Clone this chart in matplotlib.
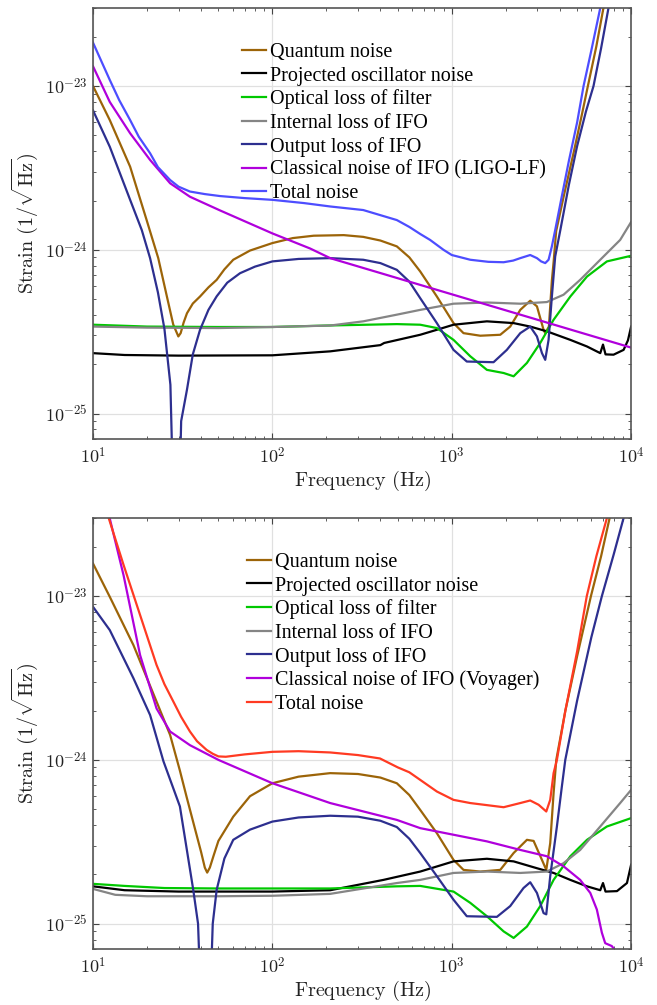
import numpy as np
import matplotlib
matplotlib.use("Agg")
from matplotlib import pyplot as plt
from matplotlib.ticker import LogLocator, FixedLocator, FuncFormatter, NullFormatter

plt.rcParams['mathtext.fontset'] = 'cm'
plt.rcParams['font.family'] = ['Liberation Serif', 'DejaVu Serif']

# ==================================================
#   DATA, frequency in Hz, strain in 1/sqrt(Hz)

labels_lf = ["Quantum noise", "Projected oscillator noise", "Optical loss of filter",
             "Internal loss of IFO", "Output loss of IFO",
             "Classical noise of IFO (LIGO-LF)", "Total noise"]
labels_voy = ["Quantum noise", "Projected oscillator noise", "Optical loss of filter",
              "Internal loss of IFO", "Output loss of IFO",
              "Classical noise of IFO (Voyager)", "Total noise"]

# ---- top panel: LIGO-LF
f_quant_lf = [10, 12.4, 16.1, 19.9, 23.1, 25.8, 28, 29.9, 30.8, 32, 33.4, 36, 39.5, 44, 48.9, 54, 60.5,
              75, 100, 130, 170, 250, 321, 400, 494, 580, 667, 826, 1023, 1163, 1442, 1864, 2118,
              2410, 2738, 2985, 3250, 3320, 3480, 3616, 3700, 3820, 4200, 4800, 5300, 5740, 6400, 7010]
h_quant_lf = [1.0e-23, 6.2e-24, 3.22e-24, 1.52e-24, 8.9e-25, 5.2e-25, 3.5e-25, 2.96e-25, 3.1e-25,
              3.6e-25, 4.1e-25, 4.7e-25, 5.19e-25, 5.9e-25, 6.56e-25, 7.6e-25, 8.7e-25,
              9.9e-25, 1.1e-24, 1.18e-24, 1.22e-24, 1.23e-24, 1.2e-24, 1.14e-24, 1.05e-24, 9.0e-25,
              7.38e-25, 5.19e-25, 3.57e-25, 3.1e-25, 2.99e-25, 3.03e-25, 3.4e-25,
              4.3e-25, 4.89e-25, 4.52e-25, 3.25e-25, 3.1e-25, 3.4e-25, 6.5e-25, 8.5e-25, 1.3e-24,
              2.1e-24, 4.0e-24, 6.6e-24, 1.0e-23, 1.75e-23, 3.0e-23]

f_osc_lf = [10, 15, 30, 100, 210, 400, 420, 667, 826, 1023, 1570, 2213, 2738, 3390, 4583, 5675, 6730,
            6970, 7200, 7980, 9080, 9600, 10000]
h_osc_lf = [2.34e-25, 2.28e-25, 2.26e-25, 2.27e-25, 2.4e-25, 2.62e-25, 2.7e-25, 3.03e-25, 3.25e-25,
            3.49e-25, 3.66e-25, 3.57e-25, 3.4e-25, 3.18e-25, 2.82e-25, 2.57e-25, 2.34e-25,
            2.64e-25, 2.3e-25, 2.29e-25, 2.45e-25, 2.8e-25, 3.4e-25]

f_filt_lf = [10, 20, 50, 100, 200, 494, 667, 826, 1023, 1268, 1570, 1946, 2213, 2625, 3114, 3696,
             4583, 5675, 7330, 10000]
h_filt_lf = [3.49e-25, 3.4e-25, 3.38e-25, 3.38e-25, 3.45e-25, 3.52e-25, 3.49e-25, 3.33e-25, 2.82e-25,
             2.24e-25, 1.85e-25, 1.77e-25, 1.69e-25, 2.04e-25, 2.7e-25, 3.74e-25,
             5.19e-25, 6.87e-25, 8.5e-25, 9.2e-25]

f_int_lf = [10, 20, 50, 100, 210, 321, 494, 667, 1023, 1570, 2410, 3390, 4200, 5200, 6730, 8690, 10000]
h_int_lf = [3.4e-25, 3.35e-25, 3.33e-25, 3.38e-25, 3.45e-25, 3.66e-25, 4.02e-25, 4.3e-25, 4.69e-25,
            4.77e-25, 4.69e-25, 4.8e-25, 5.32e-25, 6.56e-25, 8.7e-25, 1.15e-24, 1.48e-24]

f_out_lf = [10, 12.4, 16.1, 18.7, 20.8, 23, 25, 27, 29.2, 31, 33.4, 36, 39.5, 44, 48.9, 56, 66, 80, 100,
            140, 210, 321, 400, 494, 580, 667, 826, 1023, 1213, 1710, 2028, 2410, 2738, 2985, 3184,
            3320, 3466, 3616, 3773, 4030, 4500, 5000, 5600, 6170, 6800, 7480]
h_out_lf = [7.1e-24, 4.26e-24, 2.02e-24, 1.32e-24, 8.9e-25, 5.5e-25, 3.3e-25, 1.5e-25, 5e-27, 9e-26,
            1.4e-25, 2.3e-25, 3.25e-25, 4.3e-25, 5.2e-25, 6.3e-25, 7.2e-25, 7.9e-25, 8.5e-25,
            8.8e-25, 8.9e-25, 8.7e-25, 8.3e-25, 7.55e-25, 6.4e-25, 5.07e-25, 3.57e-25, 2.45e-25,
            2.08e-25, 2.06e-25, 2.45e-25, 3.1e-25, 3.4e-25, 2.96e-25, 2.34e-25,
            2.13e-25, 2.82e-25, 5.19e-25, 9.1e-25, 1.32e-24, 2.5e-24, 4.3e-24, 7.0e-24, 1.0e-23,
            1.7e-23, 3.0e-23]

f_class_lf = [10, 12.4, 16.1, 20.8, 26.9, 34.7, 51.1, 100, 162, 210, 10000]
h_class_lf = [1.32e-23, 8.0e-24, 5.15e-24, 3.54e-24, 2.55e-24, 2.11e-24, 1.74e-24, 1.26e-24, 1.02e-24,
              8.9e-25, 2.53e-25]

f_tot_lf = [10, 12.4, 14, 16.1, 18, 20.8, 23, 26.9, 30, 34.7, 42, 51.1, 70, 100, 150, 210, 321, 494,
            580, 667, 757, 900, 1000, 1268, 1600, 1946, 2200, 2410, 2738, 2985, 3150, 3320, 3466,
            3616, 3773, 4100, 4500, 5000, 5430, 6000, 6730]
h_tot_lf = [1.84e-23, 1.09e-23, 8.2e-24, 6.2e-24, 4.9e-24, 3.89e-24, 3.2e-24, 2.67e-24, 2.43e-24,
            2.27e-24, 2.19e-24, 2.13e-24, 2.07e-24, 2.02e-24, 1.93e-24, 1.84e-24, 1.75e-24, 1.52e-24,
            1.38e-24, 1.25e-24, 1.15e-24, 1.0e-24, 9.3e-25, 8.7e-25, 8.45e-25, 8.4e-25, 8.6e-25,
            8.9e-25, 9.3e-25, 8.9e-25, 8.5e-25, 8.3e-25, 8.7e-25,
            1.05e-24, 1.32e-24, 2.1e-24, 3.5e-24, 6.0e-24, 1.0e-23, 1.65e-23, 3.0e-23]

# ---- bottom panel: Voyager
f_quant_voy = [10, 12.4, 16.8, 22.6, 26.9, 30.5, 33.3, 37, 40, 42, 43.3, 44.8, 47, 50, 60.5, 75, 100, 140,
               210, 300, 400, 494, 580, 667, 826, 1023, 1163, 1442, 1864, 2213, 2625, 2860, 3184, 3365,
               3540, 3696, 3826, 4300, 5000, 5970, 6800, 7590]
h_quant_voy = [1.58e-23, 9.9e-24, 5.02e-24, 2.27e-24, 1.42e-24, 8.6e-25, 5.9e-25, 3.8e-25, 2.75e-25,
               2.2e-25, 2.05e-25, 2.2e-25, 2.6e-25, 3.2e-25, 4.5e-25, 6.0e-25, 7.2e-25, 7.9e-25,
               8.3e-25, 8.2e-25, 7.8e-25, 7.2e-25, 6.1e-25, 4.95e-25, 3.57e-25, 2.45e-25, 2.13e-25,
               2.08e-25, 2.13e-25, 2.7e-25, 3.25e-25, 3.2e-25, 2.45e-25, 2.13e-25,
               3.1e-25, 6.26e-25, 1.0e-24, 2.0e-24, 4.3e-24, 1.0e-23, 1.75e-23, 3.0e-23]

f_osc_voy = [10, 15, 30, 100, 210, 416, 667, 1023, 1570, 2213, 2985, 3696, 4583, 5675, 6730, 6970, 7200,
             8340, 9480, 10000]
h_osc_voy = [1.69e-25, 1.6e-25, 1.57e-25, 1.57e-25, 1.6e-25, 1.85e-25, 2.08e-25, 2.4e-25, 2.49e-25,
             2.4e-25, 2.18e-25, 2.04e-25, 1.85e-25, 1.69e-25, 1.6e-25, 1.77e-25, 1.57e-25,
             1.58e-25, 1.77e-25, 2.29e-25]

f_filt_voy = [10, 15, 25, 50, 100, 210, 494, 667, 1023, 1268, 1570, 1946, 2213, 2625, 3114, 3696, 4583,
              5675, 7330, 10000]
h_filt_voy = [1.75e-25, 1.7e-25, 1.65e-25, 1.64e-25, 1.64e-25, 1.64e-25, 1.69e-25, 1.7e-25, 1.57e-25,
              1.34e-25, 1.11e-25, 8.97e-26, 8.18e-26, 9.6e-26, 1.28e-25, 1.85e-25, 2.58e-25,
              3.25e-25, 3.92e-25, 4.41e-25]

f_int_voy = [10, 13.3, 20, 50, 100, 210, 494, 667, 1023, 1570, 2410, 3390, 4200, 5200, 6730, 8690, 10000]
h_int_voy = [1.63e-25, 1.5e-25, 1.47e-25, 1.47e-25, 1.48e-25, 1.52e-25, 1.77e-25, 1.85e-25, 2.04e-25,
             2.08e-25, 2.04e-25, 2.08e-25, 2.34e-25, 2.82e-25, 3.92e-25, 5.45e-25, 6.56e-25]

f_out_voy = [10, 12.4, 16.8, 20.8, 24.7, 30.5, 36.2, 38.5, 42.5, 46.5, 48.9, 54, 60.5, 75, 100, 140, 210,
             300, 400, 494, 580, 667, 826, 1023, 1213, 1785, 2118, 2512, 2738, 2985, 3250, 3365, 3540,
             3857, 4110, 4295, 5000, 6000, 6870, 8000, 9080]
h_out_voy = [8.6e-24, 6.2e-24, 3.15e-24, 1.88e-24, 9.8e-25, 5.2e-25, 1.61e-25, 1.0e-25, 5e-27, 1.0e-25,
             1.61e-25, 2.5e-25, 3.25e-25, 3.75e-25, 4.2e-25, 4.45e-25, 4.56e-25, 4.5e-25, 4.25e-25,
             3.89e-25, 3.3e-25, 2.7e-25, 1.95e-25, 1.4e-25, 1.11e-25, 1.1e-25, 1.28e-25, 1.65e-25,
             1.79e-25, 1.54e-25, 1.16e-25, 1.14e-25, 1.95e-25, 3.92e-25, 6.87e-25, 1.0e-24,
             2.3e-24, 5.6e-24, 1.0e-23, 1.8e-23, 3.0e-23]

f_class_voy = [12.2, 14.8, 18.3, 22.6, 26.9, 34.7, 50, 100, 210, 494, 667, 1023, 1570, 2410, 3390, 4200,
               5200, 5920, 6440, 6870, 7170, 7800, 8200]
h_class_voy = [3.2e-23, 1.34e-23, 4.36e-24, 2.06e-24, 1.49e-24, 1.23e-24, 1.0e-24, 7.2e-25, 5.45e-25,
               4.3e-25, 3.83e-25, 3.49e-25, 3.18e-25, 2.82e-25, 2.58e-25, 2.24e-25,
               1.85e-25, 1.54e-25, 1.22e-25, 8.8e-26, 7.6e-26, 7.3e-26, 6.8e-26]

f_tot_voy = [12.0, 14.8, 18.3, 22.6, 25, 28.1, 31, 34.7, 38, 43, 46.5, 50, 55, 70, 100, 140, 210, 300,
             398, 500, 580, 667, 826, 1023, 1268, 1946, 2410, 2738, 3050, 3365, 3540, 3696, 3857,
             4300, 5000, 5660, 6400, 7330]
h_tot_voy = [3.2e-23, 1.55e-23, 7.66e-24, 3.8e-24, 2.9e-24, 2.26e-24, 1.83e-24, 1.49e-24, 1.3e-24,
             1.15e-24, 1.09e-24, 1.05e-24, 1.045e-24, 1.08e-24, 1.12e-24, 1.13e-24, 1.11e-24,
             1.07e-24, 1.02e-24, 9.0e-25, 8.4e-25, 7.55e-25, 6.41e-25, 5.7e-25, 5.45e-25, 5.14e-25,
             5.45e-25, 5.65e-25, 5.32e-25, 4.84e-25, 5.7e-25, 8.3e-25, 1.0e-24,
             2.0e-24, 4.6e-24, 1.0e-23, 1.75e-23, 3.0e-23]

colors = ["#9C6408", "black", "#00C800", "#858585", "#2D2F8F", "#B000DC"]
tot_color_lf = "#4D4DFF"
tot_color_voy = "#FF3A22"


def setup_axes(ax):
    ax.set_xscale("log")
    ax.set_yscale("log")
    ax.set_xlim(10, 1e4)
    ax.set_ylim(7e-26, 3e-23)
    ax.xaxis.set_major_locator(FixedLocator([1e1, 1e2, 1e3, 1e4]))
    ax.yaxis.set_major_locator(FixedLocator([1e-25, 1e-24, 1e-23]))
    ax.xaxis.set_minor_locator(LogLocator(base=10, subs=np.arange(2, 10), numticks=20))
    ax.yaxis.set_minor_locator(LogLocator(base=10, subs=np.arange(2, 10), numticks=20))
    fmt = FuncFormatter(lambda v, pos: r"$10^{%d}$" % int(round(np.log10(v))))
    ax.xaxis.set_major_formatter(fmt)
    ax.yaxis.set_major_formatter(fmt)
    ax.xaxis.set_minor_formatter(NullFormatter())
    ax.yaxis.set_minor_formatter(NullFormatter())
    ax.tick_params(which="both", direction="in", top=True, right=True, colors="#444444",
                   labelcolor="#222222", labelsize=13)
    ax.tick_params(which="major", length=4.5, width=0.8)
    ax.tick_params(which="minor", length=2.5, width=0.6)
    ax.tick_params(axis="x", pad=6)
    for sp in ax.spines.values():
        sp.set_color("#555555")
        sp.set_linewidth(1.2)
    ax.grid(True, which="major", color="#e0e0e0", lw=0.9)
    ax.set_axisbelow(True)
    ax.set_xlabel(r"$\mathrm{Frequency\ (Hz)}$", fontsize=14.5, color="#222222", labelpad=1)
    ax.set_ylabel(r"$\mathrm{Strain}\ (1/\sqrt{\mathrm{Hz}})$", fontsize=14.5, color="#222222",
                  labelpad=4)


def draw_panel(ax, series, labels, tot_color, leg_x):
    setup_axes(ax)
    cols = colors + [tot_color]
    for (f, h), lab, c in zip(series, labels, cols):
        ax.plot(f, h, color=c, lw=1.6, label=lab, solid_joinstyle="round")
    ax.legend(loc="upper left", bbox_to_anchor=(leg_x, 0.918), frameon=False, fontsize=14.5,
              handlelength=1.2, handletextpad=0.2, labelspacing=0.2, borderpad=0,
              borderaxespad=0)


fig = plt.figure(figsize=(6.57, 10.05), dpi=100)
ax1 = fig.add_axes([0.1416, 0.5632, 0.819, 0.4289])
ax2 = fig.add_axes([0.1416, 0.0557, 0.819, 0.4289])

draw_panel(ax1, [(f_quant_lf, h_quant_lf), (f_osc_lf, h_osc_lf), (f_filt_lf, h_filt_lf),
                 (f_int_lf, h_int_lf), (f_out_lf, h_out_lf), (f_class_lf, h_class_lf),
                 (f_tot_lf, h_tot_lf)], labels_lf, tot_color_lf, 0.277)
draw_panel(ax2, [(f_quant_voy, h_quant_voy), (f_osc_voy, h_osc_voy), (f_filt_voy, h_filt_voy),
                 (f_int_voy, h_int_voy), (f_out_voy, h_out_voy), (f_class_voy, h_class_voy),
                 (f_tot_voy, h_tot_voy)], labels_voy, tot_color_voy, 0.286)

fig.savefig("out.png", dpi=100)
